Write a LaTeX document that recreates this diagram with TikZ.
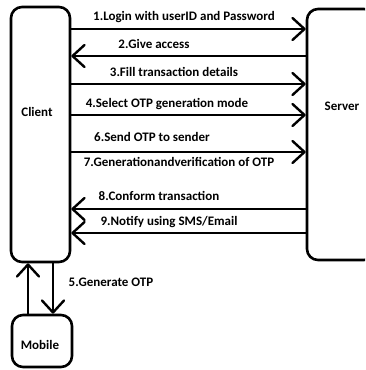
\documentclass[tikz,border=0pt]{standalone}
\usepackage{fontspec}
\setmainfont{Carlito}
\usetikzlibrary{arrows.meta}
\begin{document}
\begin{tikzpicture}[x=1pt,y=-1pt,
  box/.style={draw,line width=2.6pt,rounded corners=11pt,inner sep=0pt},
  lbl/.style={font=\bfseries\fontsize{13}{15}\selectfont,inner sep=0pt},
  msg/.style={line width=2.4pt,line cap=round,
    -{Straight Barb[length=12pt,width=22pt,line width=2.4pt,round]}}]
\useasboundingbox (0,0) rectangle (365,370);
\clip (0,0) rectangle (365,370);
% participants
\node[box,minimum width=59pt,minimum height=255pt] (client) at (40.5,134.5) {};
\node[box,minimum width=68pt,minimum height=251pt] (server) at (341,134.5) {};
\node[box,minimum width=60pt,minimum height=52pt] (mobile) at (42,341) {};
\node[lbl] (clientT) at (37,112) {Client};
\node[lbl] (serverT) at (342,106) {Server};
\node[lbl] (mobileT) at (40,345) {Mobile};
% message rows
\coordinate (r1) at (0,29);
\coordinate (r2) at (0,56);
\coordinate (r3) at (0,84);
\coordinate (r4) at (0,115);
\coordinate (r6) at (0,152);
\coordinate (r8) at (0,209);
\coordinate (r9) at (0,233);
\draw[msg] (client.east |- r1) -- (server.west |- r1);
\draw[msg] (server.west |- r2) -- (client.east |- r2);
\draw[msg] (client.east |- r3) -- (server.west |- r3);
\draw[msg] (client.east |- r4) -- (server.west |- r4);
\draw[msg] (client.east |- r6) -- (server.west |- r6);
\draw[msg] (server.west |- r8) -- (client.east |- r8);
\draw[msg] (server.west |- r9) -- (client.east |- r9);
% message labels
\node[lbl] (m1) at (184,17) {1.Login with userID and Password};
\node[lbl] (m2) at (154,44) {2.Give access};
\node[lbl] (m3) at (174,72) {3.Fill transaction details};
\node[lbl] (m4) at (167,104) {4.Select OTP generation mode};
\node[lbl] (m6) at (152,137) {6.Send OTP to sender};
\node[lbl] (m7) at (179,162) {7.Generationandverification of OTP};
\node[lbl] (m8) at (159,196) {8.Conform transaction};
\node[lbl] (m9) at (169,222) {9.Notify using SMS/Email};
% client <-> mobile
\coordinate (cu) at (28,0);
\coordinate (cd) at (53,0);
\draw[msg] (mobile.north -| cu) -- (client.south -| cu);
\draw[msg] (client.south -| cd) -- (mobile.north -| cd);
\node[lbl] (m5) at (111,282) {5.Generate OTP};
\end{tikzpicture}
\end{document}
